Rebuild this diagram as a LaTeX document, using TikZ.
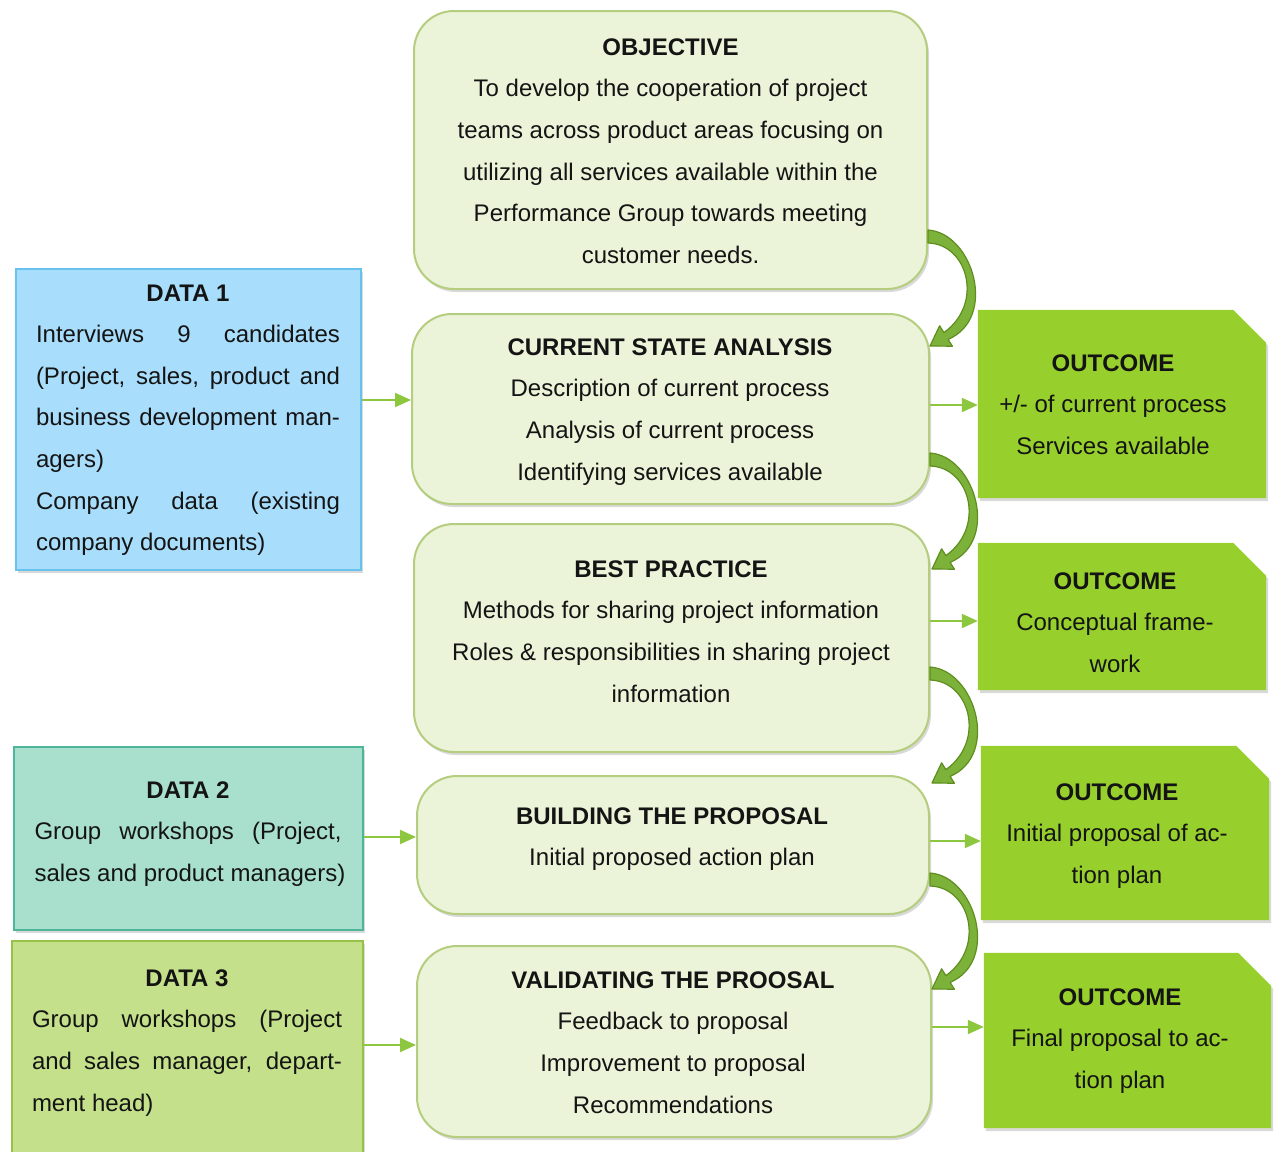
\documentclass[tikz,border=0pt]{standalone}
\usepackage{fontspec}
\setmainfont{Liberation Sans}
\usetikzlibrary{arrows.meta,shadows}
\definecolor{mainfill}{HTML}{EBF4D9}
\definecolor{maindraw}{HTML}{B4CD7E}
\definecolor{dOneFill}{HTML}{A8DDFB}
\definecolor{dOneDraw}{HTML}{67C2EE}
\definecolor{dTwoFill}{HTML}{A8E0CD}
\definecolor{dTwoDraw}{HTML}{4DB599}
\definecolor{dThreeFill}{HTML}{C4E08A}
\definecolor{dThreeDraw}{HTML}{97C247}
\definecolor{outfill}{HTML}{97CF2C}
\definecolor{smallarr}{HTML}{8DC63F}
\definecolor{bendfill}{HTML}{7DB23A}
\definecolor{benddraw}{HTML}{5E8E1F}
\pgfdeclarelayer{background}
\pgfsetlayers{background,main}
\newcommand\bendarrow[1]{%
  \begin{scope}[shift={(#1)}]
    \filldraw[bendstyle] (0,0) .. controls (45,3) and (70,88) .. (20.1,109.4)
      -- (24.4,116.2) -- (2,116) -- (11.6,95.8) -- (15.9,102.6)
      .. controls (56,74) and (40,14) .. (0,13) -- cycle;
  \end{scope}}
\begin{document}
\begin{tikzpicture}[x=1pt,y=-1pt,
  txt/.style={font=\fontsize{24}{41.6}\selectfont, inner sep=0pt, anchor=north, align=center, text=black!92},
  mainbox/.style={draw=maindraw, fill=mainfill, line width=2pt, rounded corners=40pt, inner sep=0pt,
    drop shadow={shadow xshift=2pt, shadow yshift=-3pt, opacity=0.25, fill=black!60}},
  databox/.style={line width=2pt, inner sep=0pt,
    drop shadow={shadow xshift=2pt, shadow yshift=-3pt, opacity=0.25, fill=black!60}},
  outbox/.style={draw=none, inner sep=0pt},
  outshape/.style={fill=outfill, drop shadow={shadow xshift=2pt, shadow yshift=-3pt, opacity=0.25, fill=black!60}},
  smallarrow/.style={draw=smallarr, line width=2pt, -{Triangle[length=16pt,width=14pt]}},
  bendstyle/.style={fill=bendfill, draw=benddraw, line width=1.2pt, line join=round}
]
\useasboundingbox (0,0) rectangle (1276,1151);

% main boxes
\node[mainbox, minimum width=513pt, minimum height=278pt] (obj) at (670.5,150) {};
\node[mainbox, minimum width=517pt, minimum height=190pt] (csa) at (670.5,409) {};
\node[mainbox, minimum width=515pt, minimum height=228pt] (bp) at (671.5,638) {};
\node[mainbox, minimum width=512pt, minimum height=138pt] (btp) at (673,845) {};
\node[mainbox, minimum width=514pt, minimum height=191pt] (vtp) at (674,1041.5) {};

% data boxes
\node[databox, draw=dOneDraw, fill=dOneFill, minimum width=345pt, minimum height=301pt] (d1) at (188.5,419.5) {};
\node[databox, draw=dTwoDraw, fill=dTwoFill, minimum width=349pt, minimum height=183pt] (d2) at (188.5,838.5) {};
\node[databox, draw=dThreeDraw, fill=dThreeFill, minimum width=351pt, minimum height=218pt] (d3) at (187.5,1050) {};

% outcome boxes
\node[outbox, minimum width=288pt, minimum height=188pt] (o1) at (1122,404) {};
\node[outbox, minimum width=288pt, minimum height=147pt] (o2) at (1122,616.5) {};
\node[outbox, minimum width=288pt, minimum height=174pt] (o3) at (1125,833) {};
\node[outbox, minimum width=287pt, minimum height=175pt] (o4) at (1127.5,1040.5) {};
\begin{pgfonlayer}{background}
\foreach \o in {o1,o2,o3,o4}{
  \path[outshape] (\o.south west) -- (\o.north west) -- ([xshift=-33pt]\o.north east)
    -- ([yshift=-33pt]\o.north east) -- (\o.south east) -- cycle;
}
\end{pgfonlayer}

% texts of main boxes
\node[txt] (objt) at (670.5,38.4) {\textbf{OBJECTIVE}\\To develop the cooperation of project\\teams across product areas focusing on\\utilizing all services available within the\\Performance Group towards meeting\\customer needs.};
\node[txt] (csat) at (670,338.4) {\textbf{CURRENT STATE ANALYSIS}\\Description of current process\\Analysis of current process\\Identifying services available};
\node[txt] (bpt) at (671,560.4) {\textbf{BEST PRACTICE}\\Methods for sharing project information\\Roles \& responsibilities in sharing project\\information};
\node[txt] (btpt) at (672,807.4) {\textbf{BUILDING THE PROPOSAL}\\Initial proposed action plan};
\node[txt] (vtpt) at (673,971.4) {\textbf{VALIDATING THE PROOSAL}\\Feedback to proposal\\Improvement to proposal\\Recommendations};

% texts of data boxes
\node[txt] (d1t) at (188,284.4) {\textbf{DATA 1}\\
  \makebox[304pt][s]{Interviews 9 candidates}\\
  \makebox[304pt][s]{(Project, sales, product and}\\
  \makebox[304pt][s]{business development man-}\\
  \makebox[304pt][l]{agers)}\\
  \makebox[304pt][s]{Company data (existing}\\
  \makebox[304pt][l]{company documents)}};
\node[txt] (d2t) at (188,781.4) {\textbf{DATA 2}\\
  \makebox[307pt][s]{Group workshops (Project,}\\
  \makebox[307pt][l]{sales and product managers)}};
\node[txt] (d3t) at (187,969.4) {\textbf{DATA 3}\\
  \makebox[310pt][s]{Group workshops (Project}\\
  \makebox[310pt][s]{and sales manager, depart-}\\
  \makebox[310pt][l]{ment head)}};

% texts of outcome boxes
\node[txt] (o1t) at (1113,354.4) {\textbf{OUTCOME}\\+/- of current process\\Services available};
\node[txt] (o2t) at (1115,572.4) {\textbf{OUTCOME}\\Conceptual frame-\\work};
\node[txt] (o3t) at (1117,783.4) {\textbf{OUTCOME}\\Initial proposal of ac-\\tion plan};
\node[txt] (o4t) at (1120,988.4) {\textbf{OUTCOME}\\Final proposal to ac-\\tion plan};

% small arrows
\draw[smallarrow] (d1.east |- 0,400) -- (csa.west |- 0,400);
\draw[smallarrow] (csa.east |- 0,405) -- (o1.west |- 0,405);
\draw[smallarrow] (bp.east |- 0,621) -- (o2.west |- 0,621);
\draw[smallarrow] (d2.east |- 0,837) -- (btp.west |- 0,837);
\draw[smallarrow] (btp.east |- 0,841) -- (o3.west |- 0,841);
\draw[smallarrow] (d3.east |- 0,1045) -- (vtp.west |- 0,1045);
\draw[smallarrow] (vtp.east |- 0,1027) -- (o4.west |- 0,1027);

% bent arrows
\bendarrow{obj.east |- 0,230}
\bendarrow{csa.east |- 0,453}
\bendarrow{bp.east |- 0,667}
\bendarrow{btp.east |- 0,873}
\end{tikzpicture}
\end{document}
